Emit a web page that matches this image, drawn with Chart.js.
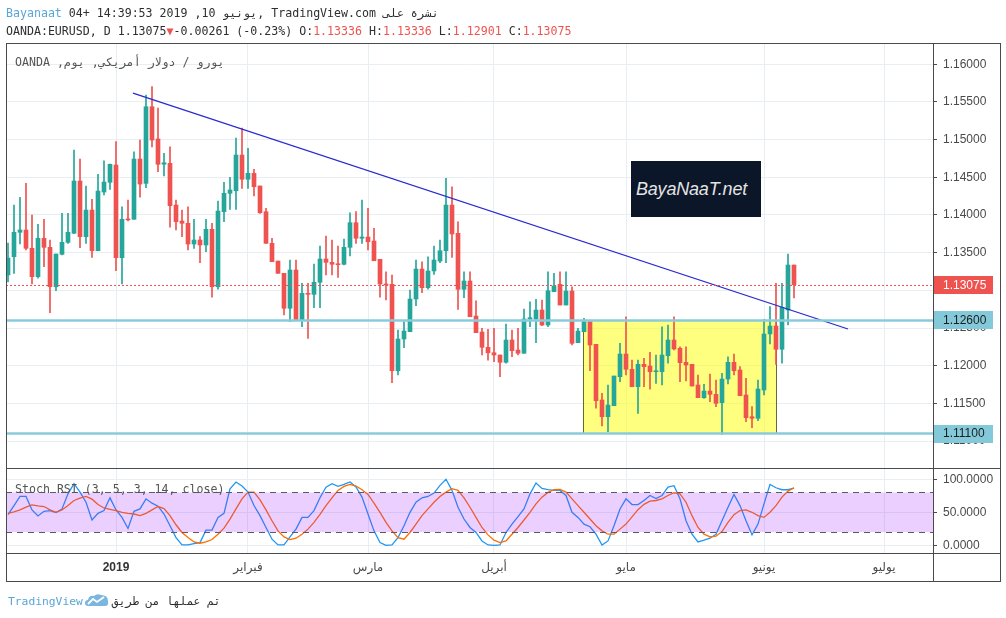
<!DOCTYPE html>
<html><head><meta charset="utf-8">
<script src="https://cdn.jsdelivr.net/npm/chart.js@4.4.1/dist/chart.umd.min.js"></script>
<style>
html,body{margin:0;padding:0;background:#fff;}
#wrap{position:relative;width:1006px;height:618px;overflow:hidden;}
canvas{position:absolute;left:0;top:0;}
.t{position:absolute;white-space:pre;font-family:"DejaVu Sans Mono",monospace;font-size:11.6px;color:#2e2e2e;line-height:14px;}
.iso{unicode-bidi:isolate;}
.r{color:#ef5350;}
#logo{position:absolute;left:631px;top:161px;width:130px;height:56px;background:#0b1628;color:#e4e4e4;font-family:"Liberation Sans",sans-serif;font-style:italic;font-size:18px;display:flex;align-items:center;padding-left:5px;box-sizing:border-box;letter-spacing:-0.2px;white-space:nowrap;overflow:hidden;}
</style></head><body>
<div id="wrap">
<canvas id="c" width="1006" height="618"></canvas>
<div class="t" style="left:6px;top:6px"><span style="color:#5aa6d6">Bayanaat</span> 04+ 14:39:53 2019 ,10 <span class="iso" dir="rtl">يونيو</span>, TradingView.com <span class="iso" dir="rtl">نشرة على</span></div>
<div class="t" id="l2" style="left:6px;top:24px"></div>
<div class="t" style="left:15px;top:55px;color:#555"><span class="iso" dir="rtl">يورو / دولار أمريكي, يوم, OANDA</span></div>
<div class="t" style="left:15px;top:482px;color:#555">Stoch RSI (3, 5, 3, 14, close)</div>
<div class="t" style="left:8px;top:593px;font-size:11.3px"><span style="color:#5aa6d6">TradingView</span><svg width="24" height="14" viewBox="0 0 24 14" style="vertical-align:-2px;margin:0 3px 0 2px"><path d="M3 13 Q0 13 0 10 Q0 7 3 7 Q4 2 9 3 Q12 0 16 2 Q23 2 23 8 Q24 13 20 13 Z" fill="#7ab6e0"/><polyline points="3,11 8,6 12,9 19,4" stroke="#fff" stroke-width="1.8" fill="none"/></svg><span class="iso" dir="rtl">تم عملها من طريق</span></div>
<div id="logo">BayaNaaT.net</div>
</div>
<script>
// ---- data ----
const firstBar = -18; // bar index of first candle (index 0 = first bar of January 2019)
const openPx = [
1.13204,1.13446,1.13770,1.13801,1.13558,1.13181,1.13691,1.13571,1.13048,1.13478,
1.13637,1.13757,1.14451,1.13712,1.14066,1.13526,1.14305,1.14434,1.14663,1.13433,
1.13943,1.13943,1.14743,1.14420,1.15437,1.15009,1.14673,1.14686,1.14132,1.13920,
1.13890,1.13615,1.13668,1.13602,1.13810,1.13048,1.14044,1.14288,1.14322,1.14796,
1.14474,1.14553,1.14385,1.14044,1.13624,1.13389,1.13226,1.12762,1.13270,1.12606,
1.12961,1.12947,1.13107,1.13416,1.13372,1.13346,1.13346,1.13571,1.13898,1.13691,
1.13708,1.13655,1.13412,1.13084,1.13080,1.11933,1.12354,1.12451,1.12885,1.13283,
1.13035,1.13257,1.13389,1.13526,1.14132,1.13757,1.13014,1.13124,1.12659,1.12447,
1.12244,1.12172,1.12142,1.12045,1.12341,1.12208,1.12165,1.12620,1.12620,1.12739,
1.12540,1.12982,1.13080,1.12805,1.12991,1.12305,1.12451,1.12584,1.12284,1.11545,
1.11323,1.11469,1.11854,1.12155,1.11952,1.11721,1.12018,1.11996,1.11920,1.11920,
1.12133,1.12341,1.12231,1.12045,1.12018,1.11744,1.11575,1.11664,1.11620,1.11509,
1.11823,1.12045,1.11943,1.11611,1.11323,1.11302,1.11677,1.12421,1.12527,1.12218,
1.12739,1.13336];
const highPx = [
1.13628,1.14132,1.14235,1.14420,1.14000,1.13876,1.13943,1.13668,1.13482,1.14022,
1.14022,1.14862,1.14743,1.14385,1.14208,1.14540,1.14720,1.14677,1.14973,1.14110,
1.14199,1.14840,1.14995,1.15593,1.15703,1.15420,1.14819,1.14906,1.14199,1.14066,
1.14110,1.13943,1.13712,1.13943,1.13890,1.14186,1.14434,1.14500,1.15022,1.15155,
1.14885,1.14606,1.14385,1.14089,1.13691,1.13389,1.13226,1.13403,1.13403,1.13093,
1.13093,1.13350,1.13588,1.13721,1.13668,1.13588,1.13681,1.14030,1.14044,1.14199,
1.14089,1.13823,1.13412,1.13247,1.13204,1.12474,1.12584,1.13004,1.13403,1.13380,
1.13446,1.13588,1.13668,1.14487,1.14375,1.13911,1.13247,1.13247,1.12862,1.12496,
1.12483,1.12496,1.12142,1.12553,1.12474,1.12496,1.12752,1.12849,1.12881,1.12872,
1.13247,1.13226,1.13247,1.13247,1.13048,1.12496,1.12629,1.12606,1.12284,1.11634,
1.11744,1.11863,1.12297,1.12650,1.12075,1.12075,1.12098,1.12178,1.12142,1.12517,
1.12540,1.12650,1.12252,1.12252,1.12018,1.11876,1.11753,1.11890,1.11810,1.11899,
1.12119,1.12155,1.11987,1.11833,1.11456,1.11810,1.12616,1.12783,1.13093,1.13093,
1.13482,1.13336];
const lowPx = [
1.13111,1.13226,1.13615,1.13535,1.13084,1.13160,1.13314,1.12703,1.12995,1.13469,
1.13624,1.13757,1.13566,1.13624,1.13438,1.13526,1.14265,1.14341,1.13261,1.13084,
1.13920,1.13943,1.14235,1.14362,1.14902,1.14574,1.14517,1.13837,1.13801,1.13712,
1.13535,1.13558,1.13367,1.13513,1.12908,1.13014,1.13911,1.14075,1.14075,1.14354,
1.14354,1.14252,1.14022,1.13624,1.13380,1.13226,1.12673,1.12584,1.12606,1.12517,
1.12363,1.12770,1.12770,1.13204,1.13204,1.13173,1.13336,1.13456,1.13624,1.13624,
1.13535,1.13393,1.12908,1.12872,1.11774,1.11876,1.12239,1.12451,1.12796,1.12969,
1.13014,1.13213,1.13367,1.13367,1.13438,1.12748,1.12902,1.12650,1.12438,1.12142,
1.12075,1.12053,1.11854,1.12032,1.12119,1.12142,1.12165,1.12517,1.12305,1.12531,
1.12517,1.12982,1.12805,1.12805,1.12275,1.12305,1.12451,1.11933,1.11435,1.11200,
1.11124,1.11469,1.11788,1.11876,1.11721,1.11368,1.11721,1.11687,1.11766,1.11744,
1.12032,1.12208,1.11788,1.11797,1.11730,1.11575,1.11567,1.11522,1.11456,1.11089,
1.11757,1.11876,1.11602,1.11257,1.11177,1.11270,1.11611,1.12288,1.12018,1.12032,
1.12540,1.12901];
const closePx = [
1.13429,1.13770,1.13801,1.13558,1.13181,1.13691,1.13571,1.13048,1.13482,1.13637,
1.13770,1.14451,1.13712,1.14066,1.13526,1.14318,1.14438,1.14673,1.13433,1.13943,
1.13935,1.14743,1.14411,1.15437,1.14995,1.14673,1.14694,1.14123,1.13911,1.13890,
1.13615,1.13668,1.13602,1.13810,1.13048,1.14053,1.14288,1.14332,1.14796,1.14474,
1.14553,1.14375,1.14030,1.13624,1.13380,1.13226,1.12762,1.13270,1.12606,1.12961,
1.12947,1.13107,1.13416,1.13372,1.13346,1.13340,1.13571,1.13898,1.13691,1.13708,
1.13645,1.13393,1.13084,1.13071,1.11933,1.12354,1.12460,1.12885,1.13283,1.13035,
1.13257,1.13403,1.13526,1.14132,1.13748,1.13014,1.13124,1.12650,1.12438,1.12244,
1.12172,1.12142,1.12045,1.12341,1.12199,1.12165,1.12620,1.12637,1.12739,1.12540,
1.12995,1.13058,1.12805,1.12991,1.12297,1.12460,1.12584,1.12275,1.11535,1.11323,
1.11478,1.11863,1.12155,1.11952,1.11721,1.12018,1.11987,1.11920,1.11930,1.12142,
1.12341,1.12222,1.12040,1.12009,1.11730,1.11575,1.11664,1.11620,1.11501,1.11823,
1.12045,1.11933,1.11602,1.11310,1.11302,1.11691,1.12421,1.12527,1.12218,1.12775,
1.13336,1.13075];
const stochK = [
46.4,60.2,74,74,53.6,44.4,51.5,52.6,49.5,55.1,
78,93.4,80.6,65.3,38.3,48.5,52.6,71.9,53.6,42.3,
25.5,51.5,55.1,70.4,63.8,59.2,47.4,29.6,11.7,0.5,
0.5,2.6,4.1,23,23,42.3,48.5,85.7,95.9,89.8,
80.6,60.2,44.9,27,9.2,0.5,0.5,12.8,24.5,42.3,
42.3,52.6,72,88,93.4,89.3,92.3,95.9,88.3,73,
47.4,21.9,4.1,0,0.5,11.7,29.6,50,65.3,71.9,
74,79.1,90.8,100,83.2,57.7,39.8,27,19.4,6.6,
0.5,0,0.5,19.4,32.1,43.4,55.1,78,94.4,86.2,
84.2,83.2,83.2,75.5,50,42.3,32.1,28.1,16.8,0.5,
6.6,29.6,55.1,70.4,61.7,61.7,67.9,75.5,70.9,75.5,
88.3,90.3,70.4,37.2,16.8,5.1,7.7,10.7,16.8,37.2,
57.7,77,60.2,37.2,15.8,32.1,62.8,92.3,87.2,84.2,
84.2,86.7];
const stochD = [
48.5,50.5,53.6,57.7,61.2,59.7,58.7,53.6,50,53.6,
60.2,67.9,71.4,74,69.9,61.7,56.6,54.6,52.6,50,
48.5,47.4,44.9,48.5,53.6,58.7,55.6,44.9,31.1,19.4,
11.7,5.1,3.1,5.1,8.7,16.8,26,39.8,55.1,70.4,
80.6,80.6,68.9,53.6,37.2,21.9,12.8,8.7,10.7,16.8,
24.5,34.7,47,60,72,83.2,89.3,92.3,89.8,84.2,
77,63.8,50,34.7,21.9,11.7,9.2,19.4,32.1,44.9,
55.1,65.3,74,80.6,85.7,83.2,71.9,57.7,42.3,27,
15.8,7.7,4.1,6.6,16.8,27,38.3,50,62.8,73,
80.1,84.2,84.7,80.6,70.4,60.2,50,39.8,29.6,21.9,
16.8,16.8,24.5,32.1,43,54,62,67,67.9,70.4,
75.5,79.6,78,65.3,44.9,27,16.8,12.8,13.8,20.9,
34.7,46.4,52.6,53.6,50,44.9,42.3,50,60.2,73,
82.1,87.2];
const monthTicks  = [0, 22, 42, 63, 85, 108, 128];
const monthLabels = ['2019','فبراير','مارس','أبريل','مايو','يونيو','يوليو'];
const priceTicks  = [1.110,1.115,1.120,1.125,1.130,1.135,1.140,1.145,1.150,1.155,1.160];
const stochTicks  = [0, 50, 100];
const stochBands  = [20, 80];
const levelLines  = [1.126, 1.111];
const trendX = [2.83, 122];
const trendY = [1.15619, 1.12487];
const boxX = [77.8, 110];
const boxY = [1.126, 1.111];

// ---- header from data ----
const last = closePx.length - 1;
const cC = closePx[last], pC = closePx[last-1], chg = cC - pC;
document.getElementById('l2').innerHTML =
 'OANDA:EURUSD, D ' + cC.toFixed(5) + '<span class="r">▼</span>' + chg.toFixed(5) +
 ' (' + (chg / pC * 100).toFixed(2) + '%) O:<span class="r">' + openPx[last].toFixed(5) +
 '</span> H:<span class="r">' + highPx[last].toFixed(5) + '</span> L:<span class="r">' +
 lowPx[last].toFixed(5) + '</span> C:<span class="r">' + cC.toFixed(5) + '</span>';

const idx = openPx.map((_, k) => firstBar + k);
const UP = '#26a69a', DN = '#ef5350';
const colors = idx.map((_, k) => closePx[k] >= openPx[k] ? UP : DN);
const AXF = "'Liberation Sans', 'DejaVu Sans', sans-serif";
const GRID = '#e8eef2';
const FRAME = '#4a4a4a';

const deco = {
  id: 'deco',
  beforeDatasetsDraw(chart) {
    const {ctx, scales: {x, y}} = chart;
    const x0 = x.getPixelForValue(boxX[0]), x1 = x.getPixelForValue(boxX[1]);
    const y0 = y.getPixelForValue(boxY[0]), y1 = y.getPixelForValue(boxY[1]);
    ctx.save();
    ctx.fillStyle = 'rgba(255,255,0,0.5)';
    ctx.fillRect(x0, y0, x1 - x0, y1 - y0);
    ctx.strokeStyle = '#5e6b3c'; ctx.lineWidth = 1;
    ctx.strokeRect(Math.round(x0) + 0.5, Math.round(y0) + 0.5, Math.round(x1 - x0), Math.round(y1 - y0));
    ctx.restore();
  },
  afterDatasetsDraw(chart) {
    const {ctx, chartArea: a, scales: {x, y, ys}} = chart;
    const hl = (x0, x1, py) => { ctx.beginPath(); ctx.moveTo(x0, py); ctx.lineTo(x1, py); ctx.stroke(); };
    ctx.save();
    // level lines
    ctx.strokeStyle = '#88ccdc'; ctx.lineWidth = 2.5;
    levelLines.forEach(v => hl(a.left, a.right, y.getPixelForValue(v)));
    // last price dotted line
    const lp = Math.round(y.getPixelForValue(closePx[last])) + 0.5;
    ctx.strokeStyle = DN; ctx.lineWidth = 1; ctx.setLineDash([2, 2]);
    hl(a.left, a.right, lp);
    ctx.setLineDash([]);
    // stoch band
    const b0 = ys.getPixelForValue(stochBands[1]), b1 = ys.getPixelForValue(stochBands[0]);
    ctx.fillStyle = 'rgba(153,21,255,0.2)';
    ctx.fillRect(a.left, b0, a.right - a.left, b1 - b0);
    ctx.strokeStyle = '#5c5866'; ctx.lineWidth = 1; ctx.setLineDash([6, 5]);
    hl(a.left, a.right, Math.round(b0) + 0.5);
    hl(a.left, a.right, Math.round(b1) + 0.5);
    ctx.setLineDash([]);
    // frame
    ctx.strokeStyle = FRAME; ctx.lineWidth = 1;
    ctx.strokeRect(6.5, a.top + 0.5, 994, 538);
    ctx.beginPath();
    ctx.moveTo(a.right + 0.5, a.top); ctx.lineTo(a.right + 0.5, 581);
    ctx.moveTo(6, Math.round(y.bottom) + 0.5); ctx.lineTo(1000, Math.round(y.bottom) + 0.5);
    ctx.moveTo(6, a.bottom + 0.5); ctx.lineTo(1000, a.bottom + 0.5);
    ctx.stroke();
    // price tags
    const tags = [
      {v: closePx[last], bg: DN, fg: '#ffffff'},
      {v: levelLines[0], bg: '#83c9da', fg: '#1d1d1d'},
      {v: levelLines[1], bg: '#83c9da', fg: '#1d1d1d'}];
    ctx.font = '12px ' + AXF; ctx.textBaseline = 'middle'; ctx.textAlign = 'left';
    tags.forEach(t => {
      const py = y.getPixelForValue(t.v);
      ctx.fillStyle = t.bg;
      ctx.fillRect(a.right + 1, Math.round(py) - 9, 59, 18);
      ctx.fillStyle = t.fg;
      ctx.fillText(t.v.toFixed(5), a.right + 10, py + 0.5);
    });
    ctx.restore();
  }
};

new Chart(document.getElementById('c'), {
  type: 'bar',
  data: {
    datasets: [
      {type: 'bar', label: 'wick', data: idx.map((v, k) => ({x: v, y: [lowPx[k], highPx[k]]})),
       backgroundColor: colors, barThickness: 1, grouped: false, yAxisID: 'y', order: 4},
      {type: 'bar', label: 'body', data: idx.map((v, k) => ({x: v, y: [openPx[k], closePx[k]]})),
       backgroundColor: colors, barThickness: 4, minBarLength: 1, grouped: false, yAxisID: 'y', order: 3},
      {type: 'line', label: 'trend', data: trendX.map((v, k) => ({x: v, y: trendY[k]})),
       borderColor: '#2a2ad2', borderWidth: 1.3, pointRadius: 0, yAxisID: 'y', order: 1},
      {type: 'line', label: 'K', data: idx.map((v, k) => ({x: v, y: stochK[k]})),
       borderColor: '#2196f3', borderWidth: 1.3, pointRadius: 0, yAxisID: 'ys', order: 2},
      {type: 'line', label: 'D', data: idx.map((v, k) => ({x: v, y: stochD[k]})),
       borderColor: '#ff6d00', borderWidth: 1.3, pointRadius: 0, yAxisID: 'ys', order: 1}
    ]
  },
  options: {
    responsive: false, animation: false, devicePixelRatio: 1,
    layout: {padding: {left: 6, top: 43, right: 6, bottom: 37}},
    plugins: {legend: {display: false}, tooltip: {enabled: false}},
    scales: {
      x: {type: 'linear', offset: false, min: -110 / 6, max: -110 / 6 + 154.5,
          grid: {color: GRID, drawTicks: false, offset: false}, border: {display: false},
          afterBuildTicks: s => { s.ticks = monthTicks.map(v => ({value: v})); },
          afterFit: s => { s.height = 28; },
          ticks: {autoSkip: false, maxRotation: 0, padding: 7,
                  callback: (v, i) => monthLabels[i],
                  color: c => (c.index === 0 ? '#333' : '#4a4a4a'),
                  font: c => ({family: AXF, size: 12, weight: c.index === 0 ? 'bold' : 'normal'})}},
      y: {type: 'linear', position: 'right', stack: 'pane', stackWeight: 425,
          min: 1.106423, max: 1.162827,
          grid: {color: GRID, tickColor: FRAME, tickLength: 4}, border: {display: false},
          afterBuildTicks: s => { s.ticks = priceTicks.map(v => ({value: v})); },
          afterFit: s => { s.width = 67; },
          ticks: {autoSkip: false, padding: 6, color: '#4a4a4a', font: {family: AXF, size: 12},
                  callback: v => v.toFixed(5)}},
      ys: {type: 'linear', position: 'right', stack: 'pane', stackWeight: 85,
          min: -11.67, max: 117.12,
          grid: {color: GRID, tickColor: FRAME, tickLength: 4}, border: {display: false},
          afterBuildTicks: s => { s.ticks = stochTicks.map(v => ({value: v})); },
          afterFit: s => { s.width = 67; },
          ticks: {autoSkip: false, padding: 6, color: '#4a4a4a', font: {family: AXF, size: 12},
                  callback: v => v.toFixed(4)}}
    }
  },
  plugins: [deco]
});
</script>
</body></html>
